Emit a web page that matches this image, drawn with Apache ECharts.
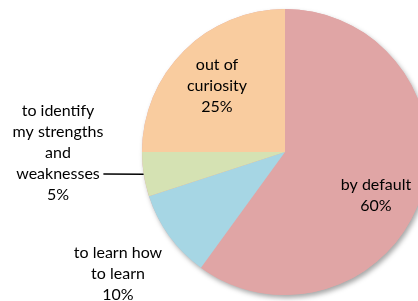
<!DOCTYPE html>
<html>
<head>
<meta charset="utf-8">
<script src="https://cdn.jsdelivr.net/npm/echarts@6/dist/echarts.min.js"></script>
<style>
  html, body { margin: 0; padding: 0; background: #fff; }
  #chart { width: 418px; height: 301px; }
</style>
</head>
<body>
<div id="chart"></div>
<script>
// slices, clockwise from 12 o'clock
var names = ['by default', 'to learn how\nto learn', 'to identify\nmy strengths\nand\nweaknesses', 'out of\ncuriosity'];
var values = [60, 10, 5, 25];
var colors = ['#E0A5A5', '#A6D6E4', '#D5E2B3', '#F9CC9F'];
var insideLabel = [true, false, false, true];

// where each label sits (centre of the text block)
var labelSpots = [[376, 195], [118, 274], [58, 174], [217, 86]];

var chart = echarts.init(document.getElementById('chart'));

var total = values.reduce(function (a, b) { return a + b; }, 0);

var data = values.map(function (v, i) {
  return {
    name: names[i],
    value: v,
    itemStyle: { color: colors[i] },
    label: { position: insideLabel[i] ? 'inside' : 'outside' },
    labelLine: { show: i === 2 }
  };
});

chart.setOption({
  backgroundColor: '#fff',
  animation: false,
  series: [
    {
      // soft shadow under the whole pie
      type: 'pie',
      silent: true,
      center: [285, 152],
      radius: 143,
      z: 1,
      label: { show: false },
      labelLine: { show: false },
      itemStyle: {
        color: '#E0A5A5',
        shadowBlur: 5,
        shadowOffsetX: 2,
        shadowOffsetY: 3,
        shadowColor: 'rgba(0,0,0,0.35)'
      },
      data: [total]
    },
    {
      type: 'pie',
      center: [285, 152],
      radius: 143,
      z: 2,
      startAngle: 90,
      clockwise: true,
      itemStyle: { borderWidth: 0 },
      label: {
        show: true,
        formatter: function (p) {
          var s = p.name + '\n' + p.value + '%';
          // two blank lines so the leader line meets "weaknesses"
          if (p.dataIndex === 2) s += '\n \n ';
          return s;
        },
        fontFamily: 'Lato',
        fontSize: 16,
        lineHeight: 21,
        color: '#000',
        align: 'center'
      },
      labelLine: {
        length: 0,
        length2: 0,
        lineStyle: { color: '#000', width: 1.5 }
      },
      labelLayout: function (params) {
        var p = labelSpots[params.dataIndex];
        return { x: p[0], y: p[1], align: 'center', verticalAlign: 'middle' };
      },
      data: data
    }
  ]
});
</script>
</body>
</html>
